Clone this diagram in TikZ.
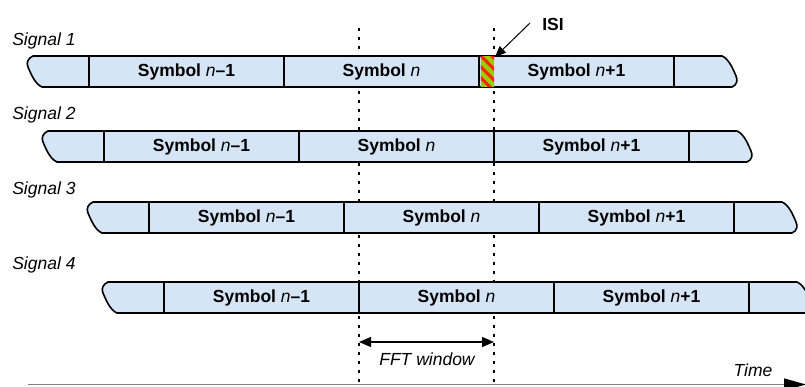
\documentclass[tikz,border=0pt]{standalone}
\usepackage{fontspec}
\setmainfont{Liberation Sans}
\usepackage{xcolor}
\usepackage{tikz}
\usetikzlibrary{arrows.meta}
\usetikzlibrary{positioning}

\definecolor{symfill}{HTML}{D5E5F5}
\definecolor{isigreen}{HTML}{99CC00}
\definecolor{isired}{HTML}{FF2200}

\begin{document}
\begin{tikzpicture}[x=1pt,y=-1pt,semithick,node distance=0pt,
	font=\fontsize{17.5}{20}\selectfont]
	\tikzstyle{sym}=[draw,fill=symfill,line width=1.6pt,minimum width=195pt,minimum height=31pt,inner sep=0pt,outer sep=0pt,font=\fontsize{17.5}{20}\selectfont\bfseries]
	\tikzstyle{endcap}=[draw,fill=symfill,line width=1.6pt]
	\tikzstyle{lbl}=[inner sep=0pt,font=\fontsize{17.5}{20}\selectfont\itshape]
	\tikzstyle{win}=[line width=2.8pt,dash pattern=on 3pt off 6pt]
	\useasboundingbox (0,0) rectangle (805,387);

	% FFT window edges
	\coordinate (wa) at (359,28);
	\coordinate (wa') at (359,390);
	\coordinate (wb) at (494,28);
	\coordinate (wb') at (494,390);
	\draw[win] (wa) -- (wa');
	\draw[win] (wb) -- (wb');

	% signal 1
	\node[lbl,anchor=west] (sig1) at (12,41) {Signal 1};
	\node[sym] (a1) at (186.5,71.5) {Symbol {\mdseries\itshape n}--1};
	\node[sym] (b1) [right=of a1] {Symbol {\mdseries\itshape n}};
	\node[sym] (c1) [right=of b1] {Symbol {\mdseries\itshape n}+1};
	\draw[endcap] (a1.north west) -- (33,56) .. controls (28,58) and (26,63) .. (28,67) .. controls (31,74) and (35,84) .. (42,87) -- (a1.south west) -- cycle;
	\draw[endcap] (c1.north east) -- (722,56) .. controls (729,59) and (733,69) .. (736,76) .. controls (738,80) and (737,85) .. (732,87) -- (c1.south east) -- cycle;
	\begin{scope}
		\clip (480.8,56.8) rectangle (494,86.2);
		\fill[isigreen] (480,56) rectangle (494,87);
		\draw[isired,line width=3pt] (470,34) -- (500,64) (470,45) -- (500,75) (470,56) -- (500,86) (470,67) -- (500,97) (470,78) -- (500,108);
	\end{scope}

	% signal 2
	\node[lbl,anchor=west] (sig2) at (12,115) {Signal 2};
	\node[sym] (a2) at (201.5,146.5) {Symbol {\mdseries\itshape n}--1};
	\node[sym] (b2) [right=of a2] {Symbol {\mdseries\itshape n}};
	\node[sym] (c2) [right=of b2] {Symbol {\mdseries\itshape n}+1};
	\draw[endcap] (a2.north west) -- (48,131) .. controls (43,133) and (41,138) .. (43,142) .. controls (46,149) and (50,159) .. (57,162) -- (a2.south west) -- cycle;
	\draw[endcap] (c2.north east) -- (737,131) .. controls (744,134) and (748,144) .. (751,151) .. controls (753,155) and (752,160) .. (747,162) -- (c2.south east) -- cycle;

	% signal 3
	\node[lbl,anchor=west] (sig3) at (12,190) {Signal 3};
	\node[sym] (a3) at (246.5,217.5) {Symbol {\mdseries\itshape n}--1};
	\node[sym] (b3) [right=of a3] {Symbol {\mdseries\itshape n}};
	\node[sym] (c3) [right=of b3] {Symbol {\mdseries\itshape n}+1};
	\draw[endcap] (a3.north west) -- (93,202) .. controls (88,204) and (86,209) .. (88,213) .. controls (91,220) and (95,230) .. (102,233) -- (a3.south west) -- cycle;
	\draw[endcap] (c3.north east) -- (782,202) .. controls (789,205) and (793,215) .. (796,222) .. controls (798,226) and (797,231) .. (792,233) -- (c3.south east) -- cycle;

	% signal 4
	\node[lbl,anchor=west] (sig4) at (12,265) {Signal 4};
	\node[sym] (a4) at (261.5,297.5) {Symbol {\mdseries\itshape n}--1};
	\node[sym] (b4) [right=of a4] {Symbol {\mdseries\itshape n}};
	\node[sym] (c4) [right=of b4] {Symbol {\mdseries\itshape n}+1};
	\draw[endcap] (a4.north west) -- (108,282) .. controls (103,284) and (101,289) .. (103,293) .. controls (106,300) and (110,310) .. (117,313) -- (a4.south west) -- cycle;
	\draw[endcap] (c4.north east) -- (797,282) .. controls (804,285) and (808,295) .. (811,302) .. controls (813,306) and (812,311) .. (807,313) -- (c4.south east) -- cycle;

	% ISI
	\node[inner sep=0pt,font=\fontsize{17.5}{20}\selectfont\bfseries] (isi) at (553,24) {ISI};
	\coordinate (isitail) at (530,23);
	\coordinate (isitip) at (495,57);
	\draw[line width=1pt,-{Triangle[length=11pt,width=9pt]}] (isitail) -- (isitip);

	% FFT window
	\coordinate (fa) at (359,342);
	\coordinate (fb) at (494,342);
	\draw[line width=1.3pt,{Triangle[length=12pt,width=10pt]}-{Triangle[length=12pt,width=10pt]}] (fa) -- (fb);
	\node[lbl] (fft) at (427,359) {FFT window};

	% time axis
	\coordinate (t0) at (28,384.5);
	\coordinate (t1) at (806,384.5);
	\draw[gray,line width=1pt,-{Triangle[length=22pt,width=12pt,color=black]}] (t0) -- (t1);
	\node[lbl] (time) at (753,370) {Time};
\end{tikzpicture}
\end{document}
